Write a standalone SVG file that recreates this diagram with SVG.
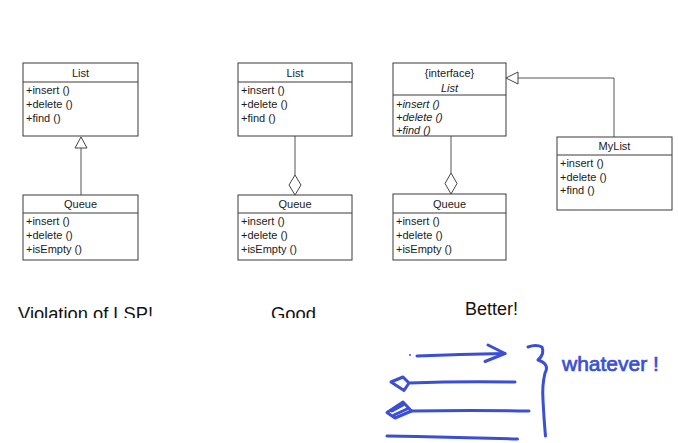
<svg xmlns="http://www.w3.org/2000/svg" width="678" height="443" viewBox="0 0 678 443">
<style>
.box{fill:#fff;stroke:#3a3a3a;stroke-width:1}
.div{stroke:#3a3a3a;stroke-width:1}
.t{font-family:"Liberation Sans",Arial,sans-serif;font-size:11px;fill:#1a1a1a}
.c{text-anchor:middle}
.i{font-style:italic}
.con{fill:none;stroke:#555;stroke-width:1}
.head{fill:#fff;stroke:#444;stroke-width:1}
.cap{font-family:"Liberation Sans",Arial,sans-serif;font-size:18px;fill:#111}
.hand{fill:none;stroke:#3a4fd6;stroke-width:3;stroke-linecap:round;stroke-linejoin:round}
</style>
<defs>
<clipPath id="clipCap"><rect x="0" y="280" width="678" height="38"/></clipPath>
</defs>
<rect width="678" height="443" fill="#fff"/>

<g id="connectors">
<line class="con" x1="81" y1="148" x2="81" y2="195"/>
<polygon class="head" points="81,137 87,148 75,148"/>
<line class="con" x1="295" y1="136" x2="295" y2="175"/>
<polygon class="head" points="295,175 301,185 295,195 289,185"/>
<line class="con" x1="451" y1="136" x2="451" y2="173"/>
<polygon class="head" points="451,173 457,183.5 451,194 445,183.5"/>
<polyline class="con" points="614,137 614,78 518,78"/>
<polygon class="head" points="506,78 518,72 518,84"/>
</g>

<g id="list1">
<rect class="box" x="23" y="63" width="115" height="73"/>
<line class="div" x1="23" y1="82" x2="138" y2="82"/>
<text class="t c" x="80.5" y="77">List</text>
<text class="t" x="26" y="94">+insert ()</text>
<text class="t" x="26" y="108">+delete ()</text>
<text class="t" x="26" y="122">+find ()</text>
</g>
<g id="queue1">
<rect class="box" x="23" y="195" width="115" height="65"/>
<line class="div" x1="23" y1="213" x2="138" y2="213"/>
<text class="t c" x="80.5" y="208">Queue</text>
<text class="t" x="26" y="225">+insert ()</text>
<text class="t" x="26" y="239">+delete ()</text>
<text class="t" x="26" y="253">+isEmpty ()</text>
</g>

<g id="list2">
<rect class="box" x="238" y="63" width="114" height="73"/>
<line class="div" x1="238" y1="82" x2="352" y2="82"/>
<text class="t c" x="295" y="77">List</text>
<text class="t" x="241" y="94">+insert ()</text>
<text class="t" x="241" y="108">+delete ()</text>
<text class="t" x="241" y="122">+find ()</text>
</g>
<g id="queue2">
<rect class="box" x="238" y="195" width="114" height="65"/>
<line class="div" x1="238" y1="213" x2="352" y2="213"/>
<text class="t c" x="295" y="208">Queue</text>
<text class="t" x="241" y="225">+insert ()</text>
<text class="t" x="241" y="239">+delete ()</text>
<text class="t" x="241" y="253">+isEmpty ()</text>
</g>

<g id="list3">
<rect class="box" x="393" y="63" width="113" height="73"/>
<line class="div" x1="393" y1="95" x2="506" y2="95"/>
<text class="t c" x="449.5" y="77">{interface}</text>
<text class="t c i" x="449.5" y="92">List</text>
<text class="t i" x="396" y="108">+insert ()</text>
<text class="t i" x="396" y="121">+delete ()</text>
<text class="t i" x="396" y="134">+find ()</text>
</g>
<g id="queue3">
<rect class="box" x="393" y="194" width="113" height="66"/>
<line class="div" x1="393" y1="213" x2="506" y2="213"/>
<text class="t c" x="449.5" y="208">Queue</text>
<text class="t" x="396" y="225">+insert ()</text>
<text class="t" x="396" y="239">+delete ()</text>
<text class="t" x="396" y="253">+isEmpty ()</text>
</g>

<g id="mylist">
<rect class="box" x="557" y="137" width="115" height="73"/>
<line class="div" x1="557" y1="155" x2="672" y2="155"/>
<text class="t c" x="614.5" y="150">MyList</text>
<text class="t" x="560" y="167">+insert ()</text>
<text class="t" x="560" y="181">+delete ()</text>
<text class="t" x="560" y="194">+find ()</text>
</g>

<g id="captions">
<text class="cap" x="18" y="320" clip-path="url(#clipCap)" textLength="135" lengthAdjust="spacingAndGlyphs">Violation of LSP!</text>
<text class="cap" x="271" y="320" clip-path="url(#clipCap)" textLength="45" lengthAdjust="spacingAndGlyphs">Good</text>
<text class="cap" x="465" y="315" textLength="53" lengthAdjust="spacingAndGlyphs">Better!</text>
</g>

<g id="sketch">
<circle cx="410" cy="355" r="1" fill="#3a4fd6"/>
<path class="hand" d="M417,356 Q460,354 505,353.5"/>
<path class="hand" d="M488,345 L505,353.5 L485,361.5"/>
<path class="hand" d="M391,382 L403,377 L409,383 L404,390.5 Z M409,383 Q460,381 515,382"/>
<path class="hand" d="M387,412.5 L403,402 L411.5,411 L395,418 Z" fill="#3a4fd6"/>
<path class="hand" d="M392,411 L403,405 M394,415 L407,409"/>
<path class="hand" d="M411.5,411 Q470,410 529,411"/>
<path class="hand" d="M387,436 Q450,437 517.5,439"/>
<path class="hand" d="M528,347 Q536,344 542,347 Q545,354 538,360 Q550,364 545,373 Q542,385 543,400 Q544,420 545.5,436"/>
<text x="562" y="371" font-family="'Liberation Sans',Arial,sans-serif" font-size="21" fill="#3a4fd6" stroke="#3a4fd6" stroke-width="0.7">whatever !</text>
</g>
</svg>
